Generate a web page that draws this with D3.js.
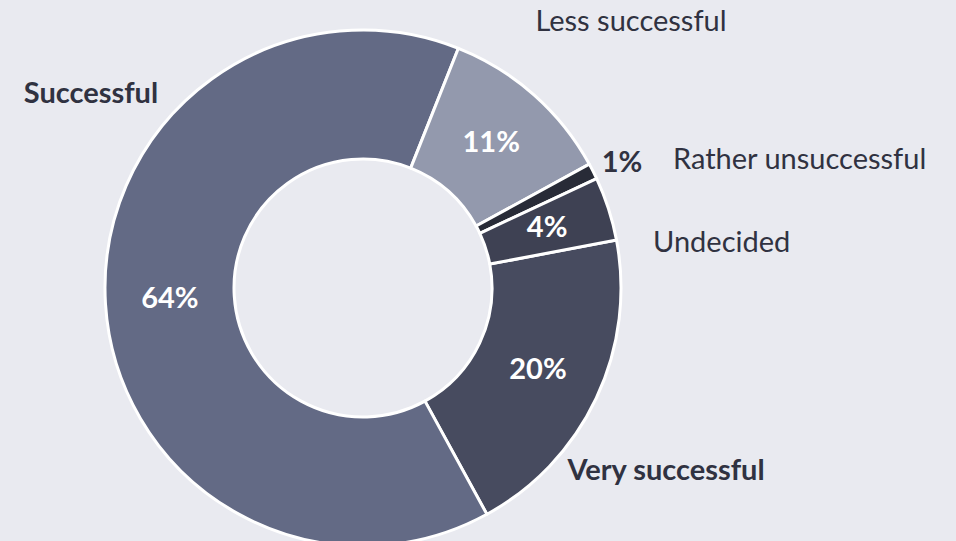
<!DOCTYPE html>
<html>
<head>
<meta charset="utf-8">
<script src="https://cdn.jsdelivr.net/npm/d3@7"></script>
<style>
  html, body { margin: 0; padding: 0; background: #e9eaf0; }
  svg { display: block; }
  text { font-family: Lato, "Open Sans", sans-serif; }
</style>
</head>
<body>
<div id="chart"></div>
<script>
// data
var categories = ["Very successful", "Successful", "Less successful", "Rather unsuccessful", "Undecided"];
var shares = [20, 64, 11, 1, 4];
var colors = ["#474b5f", "#636a85", "#9399ad", "#282b37", "#3e4153"];

// layout
var width = 956, height = 541;
var cx = 363, cy = 288;
var outerR = 258, innerR = 129;
var startDeg = 79.3;
var fontSize = 29;
var textShift = -3; // Lato sits a bit low with a central baseline

// where the category names sit (text placement only)
var nameLayout = {
    "Very successful":     { x: 666, y: 471, anchor: "middle", bold: true },
    "Successful":          { x: 91,  y: 94,  anchor: "middle", bold: true },
    "Less successful":     { x: 631, y: 22,  anchor: "middle", bold: false },
    "Rather unsuccessful": { x: 673, y: 160, anchor: "start",  bold: false },
    "Undecided":           { x: 653, y: 243, anchor: "start",  bold: false }
};
// the thin slice gets its percent outside the ring
var pctOutside = { "Rather unsuccessful": { x: 622, y: 163 } };

var data = categories.map(function (c, i) { return { name: c, value: shares[i], color: colors[i] }; });

var svg = d3.select("#chart")
    .append("svg")
    .attr("width", width)
    .attr("height", height);

svg.append("rect")
    .attr("width", width)
    .attr("height", height)
    .attr("fill", "#e9eaf0");

var g = svg.append("g")
    .attr("transform", "translate(" + cx + "," + cy + ")");

var start = startDeg * Math.PI / 180;
var pie = d3.pie()
    .sort(null)
    .value(function (d) { return d.value; })
    .startAngle(start)
    .endAngle(start + 2 * Math.PI);

var arc = d3.arc()
    .innerRadius(innerR)
    .outerRadius(outerR);

var arcs = pie(data);

g.selectAll("path.slice")
    .data(arcs)
    .enter()
    .append("path")
    .attr("class", "slice")
    .attr("d", arc)
    .attr("fill", function (d) { return d.data.color; })
    .attr("stroke", "#ffffff")
    .attr("stroke-width", 3)
    .attr("stroke-linejoin", "round");

// percent labels
g.selectAll("text.pct")
    .data(arcs)
    .enter()
    .append("text")
    .attr("class", "pct")
    .attr("transform", function (d) {
        var o = pctOutside[d.data.name];
        if (o) return "translate(" + (o.x - cx) + "," + (o.y - cy + textShift) + ")";
        var c = arc.centroid(d);
        return "translate(" + c[0] + "," + (c[1] + textShift) + ")";
    })
    .attr("text-anchor", "middle")
    .attr("dominant-baseline", "central")
    .attr("font-size", fontSize)
    .attr("font-weight", "bold")
    .attr("fill", function (d) { return pctOutside[d.data.name] ? "#303241" : "#ffffff"; })
    .text(function (d) { return d.data.value + "%"; });

// category names
svg.selectAll("text.name")
    .data(data)
    .enter()
    .append("text")
    .attr("class", "name")
    .attr("x", function (d) { return nameLayout[d.name].x; })
    .attr("y", function (d) { return nameLayout[d.name].y + textShift; })
    .attr("text-anchor", function (d) { return nameLayout[d.name].anchor; })
    .attr("dominant-baseline", "central")
    .attr("font-size", fontSize)
    .attr("font-weight", function (d) { return nameLayout[d.name].bold ? "bold" : "normal"; })
    .attr("fill", "#303241")
    .text(function (d) { return d.name; });
</script>
</body>
</html>
